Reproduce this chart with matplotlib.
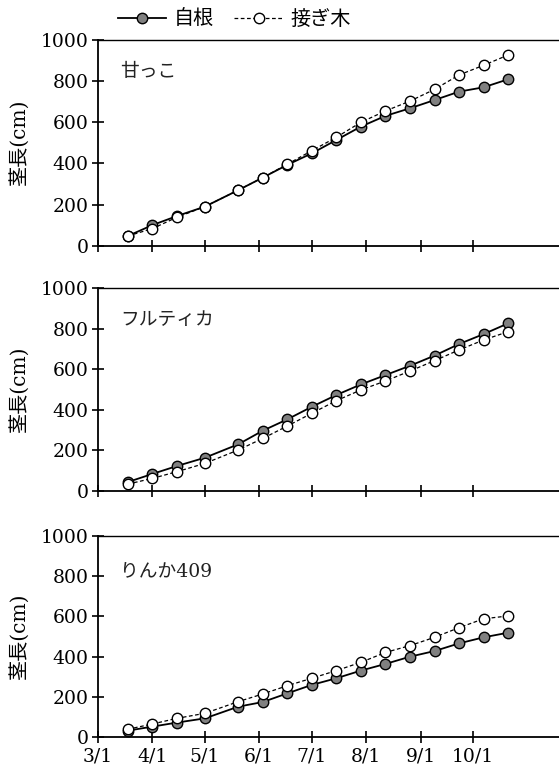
import matplotlib
matplotlib.use('Agg')
import matplotlib.pyplot as plt
from datetime import date

# sampling dates (month, day)
dates = [(3, 18), (4, 1), (4, 15), (5, 1), (5, 20), (6, 3), (6, 17), (7, 1),
         (7, 15), (7, 29), (8, 12), (8, 26), (9, 9), (9, 23), (10, 7), (10, 21)]
tick_dates = [(3, 1), (4, 1), (5, 1), (6, 1), (7, 1), (8, 1), (9, 1), (10, 1)]
tick_labels = ['3/1', '4/1', '5/1', '6/1', '7/1', '8/1', '9/1', '10/1']

cultivars = ['甘っこ', 'フルティカ', 'りんか409']

# 自根 (own-rooted)
own_amakko = [47, 100, 144, 190, 270, 331, 393, 449, 514, 579, 631, 668, 708, 749, 770, 809]
own_fruitica = [44, 84, 123, 164, 230, 297, 353, 415, 473, 525, 571, 617, 667, 724, 773, 826]
own_rinka = [33, 53, 73, 94, 152, 175, 218, 260, 293, 331, 364, 400, 428, 466, 496, 519]

# 接ぎ木 (grafted)
graft_amakko = [47, 83, 138, 190, 270, 331, 396, 462, 527, 600, 655, 703, 760, 830, 877, 927]
graft_fruitica = [34, 62, 95, 136, 202, 259, 320, 383, 445, 498, 542, 591, 642, 695, 744, 785]
graft_rinka = [40, 66, 94, 119, 177, 215, 256, 293, 331, 372, 421, 455, 496, 544, 588, 602]

own = [own_amakko, own_fruitica, own_rinka]
graft = [graft_amakko, graft_fruitica, graft_rinka]


def doy(md):
    return (date(2019, md[0], md[1]) - date(2019, 3, 1)).days


x = [doy(d) for d in dates]
xt = [doy(d) for d in tick_dates]

serif = ['DejaVu Serif']
jp = ['Noto Sans CJK JP', 'DejaVu Sans']
mixed = ['DejaVu Serif', 'Noto Sans CJK JP']
plt.rcParams['font.family'] = jp

fig = plt.figure(figsize=(5.59, 7.78), dpi=100)
boxes = [(0.6842, 0.9486), (0.3689, 0.6298), (0.0523, 0.3114)]
text_y = [0.845, 0.84, 0.826]

for i, (b, t) in enumerate(boxes):
    ax = fig.add_axes([0.1753, b, 0.8247, t - b])
    l1, = ax.plot(x, own[i], '-', color='black', lw=1.3, marker='o', ms=7.5,
                  mfc='#808080', mec='black', mew=1.0, label='自根', zorder=3)
    l2, = ax.plot(x, graft[i], '--', color='black', lw=0.9, dashes=(3, 2),
                  marker='o', ms=7.5, mfc='white', mec='black', mew=1.0,
                  label='接ぎ木', zorder=4)
    ax.set_xlim(0, 263)
    ax.set_ylim(0, 1000)
    ax.set_yticks([0, 200, 400, 600, 800, 1000])
    ax.set_xticks(xt)
    if i == 2:
        ax.set_xticklabels(tick_labels, fontfamily=serif, fontsize=13.5)
    else:
        ax.set_xticklabels([])
    for lab in ax.get_yticklabels():
        lab.set_fontfamily(serif)
        lab.set_fontsize(13.5)
    ax.tick_params(direction='inout', length=8, width=1.2, colors='black', pad=3)
    ax.spines['right'].set_visible(False)
    for s in ['left', 'bottom']:
        ax.spines[s].set_linewidth(1.3)
    ax.spines['top'].set_linewidth(1.0)
    ax.text(0.048, text_y[i], cultivars[i], transform=ax.transAxes,
            fontsize=13.5, va='center', ha='left', color='#222222',
            fontfamily=mixed)
    ax.set_ylabel('茎長(cm)', fontsize=14.5, fontfamily=mixed)
    ax.yaxis.set_label_coords(-0.150, 0.5)

fig.legend(handles=[l1, l2], loc='upper left', bbox_to_anchor=(0.178, 1.012),
           ncol=2, frameon=False, fontsize=14.5, handlelength=2.4,
           columnspacing=1.0, handletextpad=0.4)

fig.savefig('out.png', dpi=100)
